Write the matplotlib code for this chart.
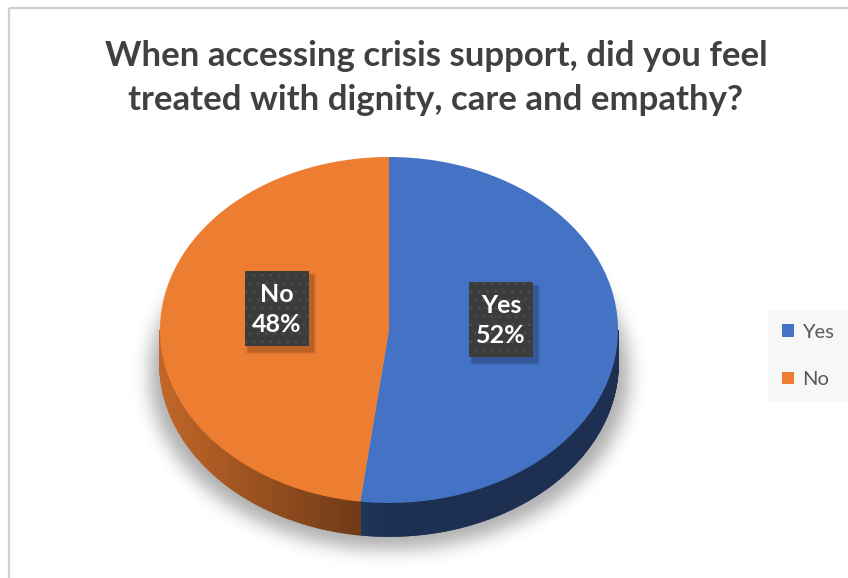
import numpy as np
import matplotlib
matplotlib.use("Agg")
import matplotlib.pyplot as plt
from matplotlib.patches import Polygon, Rectangle

plt.rcParams["font.family"] = ["Lato", "DejaVu Sans"]

# Survey answers
labels = ["Yes", "No"]
shares = [52, 48]
colors = ["#4472C4", "#ED7D31"]

title = "When accessing crisis support, did you feel\ntreated with dignity, care and empathy?"

W, H = 848, 578
DPI = 100

# pie geometry in pixels (top face ellipse)
CX, CY = 389, 330
RX, RY = 229, 173
DEPTH = 33


def shade(hex_color, factor):
    rgb = np.array(matplotlib.colors.to_rgb(hex_color))
    return tuple(np.clip(rgb * factor, 0, 1))


def gaussian_blur(img, sigma):
    r = int(3 * sigma)
    k = np.exp(-0.5 * (np.arange(-r, r + 1) / sigma) ** 2)
    k /= k.sum()
    out = np.apply_along_axis(lambda m: np.convolve(m, k, mode="same"), 0, img)
    out = np.apply_along_axis(lambda m: np.convolve(m, k, mode="same"), 1, out)
    return out


def pixel_axes(fig):
    a = fig.add_axes([0, 0, 1, 1])
    a.set_xlim(0, W)
    a.set_ylim(H, 0)
    a.axis("off")
    a.patch.set_alpha(0)
    return a


fig = plt.figure(figsize=(W / DPI, H / DPI), dpi=DPI)
fig.patch.set_facecolor("white")

ax = pixel_axes(fig)

# chart frame
ax.plot([9, W], [8, 8], color="#d0d0d0", lw=1.6, solid_capstyle="butt")
ax.plot([9, 9], [8, H], color="#d0d0d0", lw=1.6, solid_capstyle="butt")

# soft drop shadow under the pie
yy, xx = np.mgrid[0:H, 0:W]
mask = (((xx - CX) / 240.0) ** 2 + ((yy - 374) / 175.0) ** 2 <= 1).astype(float)
blur = gaussian_blur(mask, 9)
shadow = np.zeros((H, W, 4))
shadow[..., 3] = blur * 0.32
ax.imshow(shadow, extent=(0, W, H, 0), zorder=1, interpolation="bilinear")

ax.text(436, 78, title, ha="center", va="center", fontsize=25,
        fontweight="bold", color="#404040", linespacing=1.5, zorder=5)

# pie axes: unit circle maps onto the ellipse
pax = fig.add_axes([0, 0, 1, 1])
pax.patch.set_alpha(0)
wedges, _ = pax.pie(shares, colors=colors, startangle=90, counterclock=False,
                    radius=1, center=(0, 0), frame=True,
                    wedgeprops=dict(linewidth=0, zorder=3))
pax.set_aspect("auto")
pax.set_xlim(-CX / RX, (W - CX) / RX)
pax.set_ylim(-(H - CY) / RY, CY / RY)
pax.axis("off")

d = DEPTH / RY
for w, col in zip(wedges, colors):
    t1, t2 = sorted([w.theta1, w.theta2])
    # visible front wall lies between 180 and 360 degrees
    for off in (-360, 0, 360):
        a0 = max(t1 + off, 180)
        a1 = min(t2 + off, 360)
        if a1 <= a0:
            continue
        edges = np.linspace(a0, a1, max(int((a1 - a0) * 2), 2))
        for e0, e1 in zip(edges[:-1], edges[1:]):
            th = np.radians([e0, e1])
            light = max(0.0, -np.cos(th.mean()))
            f = 0.42 + 0.40 * light
            c, s = np.cos(th), np.sin(th)
            pts = [(c[0], s[0]), (c[1], s[1]), (c[1], s[1] - d), (c[0], s[0] - d)]
            fc = shade(col, f)
            pax.add_patch(Polygon(pts, closed=True, facecolor=fc,
                                  edgecolor=fc, lw=1.2, zorder=2))

# data labels on top of the pie
lax = pixel_axes(fig)
total = sum(shares)
start = 90.0
for lab, val in zip(labels, shares):
    sweep = 360.0 * val / total
    mid = np.radians(start - sweep / 2)
    start -= sweep
    lx = CX + 0.49 * RX * np.cos(mid)
    ly = CY - 0.49 * RY * np.sin(mid) - 16
    bw, bh = 64, 75
    for k, a in enumerate([0.06, 0.08, 0.10]):
        g = 3 - k
        lax.add_patch(Rectangle((lx - bw / 2 + 4 - g, ly - bh / 2 + 5 - g),
                                bw + 2 * g, bh + 2 * g, facecolor="black",
                                alpha=a, lw=0, zorder=6))
    lax.add_patch(Rectangle((lx - bw / 2, ly - bh / 2), bw, bh,
                            facecolor="#3c3c3c", edgecolor="#4a4a4a", lw=0,
                            hatch="..", zorder=7))
    lax.text(lx, ly + 1, f"{lab}\n{val}%", ha="center", va="center",
             fontsize=18, fontweight="bold", color="white", linespacing=1.4,
             zorder=8)

leg = lax.legend(wedges, labels, loc="center left",
                 bbox_to_anchor=(768 / W, 1 - 356 / H),
                 bbox_transform=fig.transFigure, frameon=True,
                 facecolor="#f7f7f7", edgecolor="none", fancybox=False,
                 handlelength=0.6, handleheight=0.6, handletextpad=0.4,
                 labelspacing=1.5, fontsize=14.5, labelcolor="#595959",
                 borderpad=0.7, borderaxespad=0)
leg.get_frame().set_alpha(1)

fig.savefig("out.png", dpi=DPI)
